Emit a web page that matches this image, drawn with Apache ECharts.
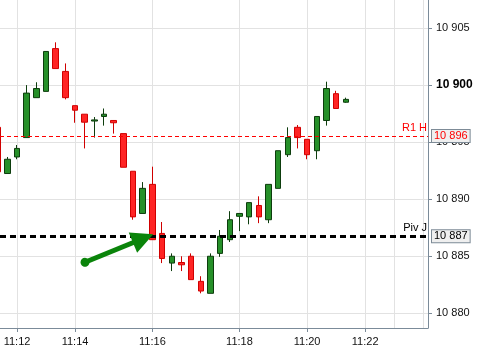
<!DOCTYPE html>
<html><head><meta charset="utf-8">
<script src="https://cdn.jsdelivr.net/npm/echarts@6/dist/echarts.min.js"></script>
<style>html,body{margin:0;padding:0;background:#fff}#c{width:481px;height:347px}</style>
</head><body><div id="c"></div><script>
// Candle OHLC values (one entry per candle, left to right)
const opens  = [10896.3,10892.25,10893.7,10895.4,10898.9,10899.45,10903.2,10901.2,10898.2,10897.45,10896.85,10897.25,10896.9,10895.75,10892.45,10888.75,10891.3,10887.0,10884.4,10884.45,10885.0,10882.8,10881.75,10885.25,10886.45,10888.5,10888.45,10889.45,10888.2,10890.95,10893.9,10896.3,10895.25,10894.25,10896.9,10899.25,10898.5];
const closes = [10892.4,10893.5,10894.45,10899.3,10899.7,10902.95,10901.45,10898.9,10897.8,10896.75,10896.95,10897.45,10896.7,10892.8,10888.45,10890.95,10886.45,10884.8,10885.0,10884.25,10882.95,10881.95,10885.0,10886.75,10888.2,10888.75,10889.7,10888.45,10891.3,10894.25,10895.4,10895.4,10893.9,10897.25,10899.7,10897.95,10898.75];
const lows   = [10892.4,10892.25,10893.5,10895.4,10898.9,10899.45,10901.45,10898.75,10896.7,10894.45,10895.4,10896.45,10895.75,10892.8,10888.2,10888.75,10886.45,10884.4,10883.7,10883.7,10882.95,10881.75,10881.75,10884.95,10886.25,10887.2,10887.8,10887.9,10887.9,10890.95,10893.7,10894.45,10893.5,10893.5,10896.45,10897.95,10898.45];
const highs  = [10896.3,10893.7,10894.75,10900.0,10900.25,10902.95,10903.75,10901.9,10898.2,10897.45,10897.2,10897.95,10896.9,10895.75,10892.45,10891.5,10892.85,10888.0,10885.25,10885.0,10885.25,10883.25,10885.25,10887.3,10888.95,10888.75,10889.7,10890.25,10891.3,10894.25,10896.3,10896.5,10895.25,10897.25,10900.3,10899.5,10898.9];

// Time axis: candle index positions of the labelled ticks
const xTickIdx    = [2, 8, 16, 25, 32, 38];
const xTickLabels = ['11:12', '11:14', '11:16', '11:18', '11:20', '11:22'];
const xExtraGrid  = [41, 44];
const xMin = 0.238, xMax = 44.5;

// Price axis
const yTicks = [10880, 10885, 10890, 10895, 10900, 10905];
const yBold  = 10900;
const yMin = 10878.71, yMax = 10907.46;

// Horizontal levels
const levelNames  = ['R1 H', 'Piv J'];
const levelValues = [10895.53, 10886.75];
const levelColors = ['#ff0000', '#000000'];

// Arrow annotation (candle index, price)
const arrowFrom = [9.03, 10884.47];
const arrowTo   = [15.04, 10886.56];

const FONT = '"Liberation Sans", Arial, sans-serif';
const fmt = v => String(Math.round(v)).replace(/\B(?=(\d{3})+(?!\d))/g, ' ');

const candleData = opens.map((o, i) => [i, o, closes[i], lows[i], highs[i]]);

const levelLines = [];
xExtraGrid.forEach(x => levelLines.push({
  xAxis: x, lineStyle: { color: '#e2e2e2', width: 1, type: 'solid' }, label: { show: false }
}));
levelNames.forEach((name, k) => {
  const isPiv = k === 1;
  levelLines.push({
    yAxis: levelValues[k],
    lineStyle: { color: levelColors[k], width: isPiv ? 3 : 1, type: isPiv ? [6, 4] : [4, 3] },
    label: { show: true, position: 'insideEndTop', formatter: name, color: levelColors[k],
             fontSize: 11, fontFamily: FONT, distance: [1, 3] }
  });
});
levelNames.forEach((name, k) => {
  levelLines.push({
    yAxis: levelValues[k],
    lineStyle: { color: 'transparent', width: 0 },
    label: { show: true, position: 'end', distance: 4, formatter: fmt(levelValues[k]),
             color: levelColors[k], fontSize: 11, fontFamily: FONT,
             backgroundColor: '#efefef', borderColor: '#7d8b97', borderWidth: 1,
             padding: [1, 2, 0, 2], lineHeight: 11 }
  });
});
levelLines.push([
  { coord: arrowFrom, symbol: 'circle', symbolSize: 9 },
  { coord: arrowTo, symbol: 'triangle', symbolSize: 22 }
]);

const chart = echarts.init(document.getElementById('c'), null, { renderer: 'canvas' });
chart.setOption({
  animation: false,
  textStyle: { fontFamily: FONT },
  grid: { left: 0, right: 53, top: 0, bottom: 19, containLabel: false, outerBoundsMode: 'none' },
  xAxis: {
    type: 'value', min: xMin, max: xMax,
    axisLine: { show: true, lineStyle: { color: '#7b8b99', width: 1 } },
    axisTick: { show: true, length: 4, customValues: xTickIdx, lineStyle: { color: '#7b8b99' } },
    axisLabel: { customValues: xTickIdx, color: '#111', fontSize: 11, fontFamily: FONT, margin: 8,
                 formatter: v => xTickLabels[xTickIdx.indexOf(Math.round(v))] || '' },
    splitLine: { show: true, lineStyle: { color: '#e2e2e2', width: 1 } }
  },
  yAxis: {
    type: 'value', position: 'right', min: yMin, max: yMax, scale: true,
    axisLine: { show: true, lineStyle: { color: '#7b8b99', width: 1 } },
    axisTick: { show: true, length: 4, customValues: yTicks, lineStyle: { color: '#7b8b99' } },
    axisLabel: { customValues: yTicks, color: '#111', fontSize: 11, fontFamily: FONT, margin: 8,
                 formatter: v => Math.round(v) === yBold ? '{b|' + fmt(v) + '}' : fmt(v),
                 rich: { b: { fontWeight: 'bold', fontSize: 12, fontFamily: FONT, color: '#000' } } },
    splitLine: { show: true, lineStyle: { color: '#e2e2e2', width: 1 } }
  },
  series: [{
    type: 'candlestick',
    data: candleData,
    barWidth: 6,
    clip: false,
    itemStyle: {
      color: '#269029', color0: '#ff2424',
      borderColor: '#0d3d0d', borderColor0: '#d00000', borderWidth: 1
    },
    markLine: {
      silent: true, symbol: 'none', animation: false,
      lineStyle: { color: '#0a840a', width: 5, type: 'solid' },
      label: { show: false },
      data: levelLines
    }
  }]
});
</script></body></html>
